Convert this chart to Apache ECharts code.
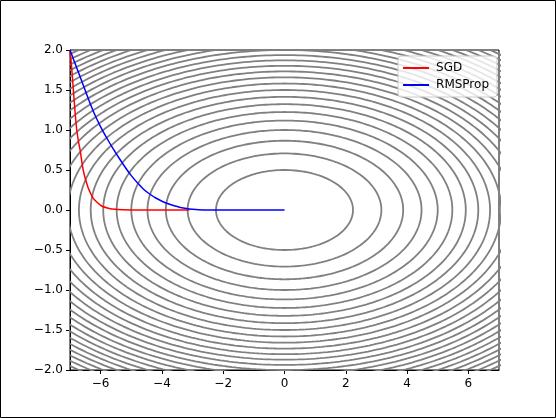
<!DOCTYPE html>
<html>
<head>
<meta charset="utf-8">
<script src="https://cdn.jsdelivr.net/npm/echarts@6/dist/echarts.min.js"></script>
<style>
html,body{margin:0;padding:0;background:#fff;}
#chart{width:556px;height:418px;}
</style>
</head>
<body>
<div id="chart"></div>
<script>
// Contour levels of f(x, y) = 0.1 x^2 + 2 y^2
const contourLevels = [0.5,1,1.5,2,2.5,3,3.5,4,4.5,5,5.5,6,6.5,7,7.5,8,8.5,9,9.5,10,10.5,11,11.5,12,12.5];
const xTicks = [-6,-4,-2,0,2,4,6];
const yTicks = [-2,-1.5,-1,-0.5,0,0.5,1,1.5,2];

// Optimiser traces (x, y)
const sgdX = [-7,-6.94,-6.89,-6.84,-6.78,-6.72,-6.67,-6.57,-6.42,-6.33,-6.24,-6.10,-5.97,-5.75,-5.53,-5.25,-4.99,-4.5,-4.0,-3.5,-3.1];
const sgdY = [2,1.75,1.5,1.25,1.0,0.85,0.75,0.5,0.29,0.21,0.146,0.09,0.05,0.022,0.008,0.003,0.001,0,0,0,0];
const rmsX = [-7,-6.63,-6.38,-6.2,-6.0,-5.8,-5.6,-5.4,-5.2,-5.0,-4.8,-4.6,-4.4,-4.2,-4.0,-3.8,-3.6,-3.4,-3.2,-3.0,-2.8,-2.5,-2.0,-1.0,0];
const rmsY = [2,1.625,1.37,1.2,1.04,0.9,0.77,0.65,0.535,0.43,0.34,0.26,0.2,0.15,0.11,0.078,0.052,0.032,0.018,0.009,0.004,0.001,0,0,0];

const zip = (a, b) => a.map((v, i) => [v, b[i]]);
const fmt = v => {
  const s = (Math.abs(v) < 1e-9 ? 0 : v);
  return (s < 0 ? '\u2212' : '') + Math.abs(s);
};
const fmtY = v => {
  const s = (Math.abs(v) < 1e-9 ? 0 : v);
  return (s < 0 ? '\u2212' : '') + Math.abs(s).toFixed(1);
};

const contourSeries = contourLevels.map(f => {
  const a = Math.sqrt(f / 0.1), b = Math.sqrt(f / 2);
  const pts = [];
  const N = 360;
  for (let i = 0; i <= N; i++) {
    const t = Math.PI / 2 + 2 * Math.PI * i / N;
    pts.push([a * Math.cos(t), b * Math.sin(t)]);
  }
  return {
    type: 'line', data: pts, showSymbol: false, silent: true, clip: true,
    lineStyle: {color: '#808080', width: 1.8}, z: 1
  };
});

const chart = echarts.init(document.getElementById('chart'), null, {renderer: 'canvas'});
chart.setOption({
  animation: false,
  backgroundColor: '#fff',
  textStyle: {fontFamily: 'DejaVu Sans'},
  grid: {left: 70, right: 57, top: 50, bottom: 48, show: true, borderColor: '#000', borderWidth: 1, backgroundColor: 'transparent'},
  xAxis: {
    type: 'value', min: -7, max: 7, interval: 1,
    splitLine: {show: false},
    axisLine: {show: true, onZero: false, lineStyle: {color: '#000', width: 1}},
    axisTick: {show: true, inside: false, length: 4, customValues: xTicks, lineStyle: {color: '#000'}},
    axisLabel: {customValues: xTicks, formatter: fmt, color: '#000', fontSize: 12, margin: 8, fontFamily: 'DejaVu Sans'}
  },
  yAxis: {
    type: 'value', min: -2, max: 2, interval: 0.5,
    splitLine: {show: false},
    axisLine: {show: true, onZero: false, lineStyle: {color: '#000', width: 1}},
    axisTick: {show: true, inside: false, length: 4, customValues: yTicks, lineStyle: {color: '#000'}},
    axisLabel: {customValues: yTicks, formatter: fmtY, color: '#000', fontSize: 12, margin: 7, fontFamily: 'DejaVu Sans'}
  },
  legend: {
    data: ['SGD', 'RMSProp'],
    orient: 'vertical', right: 59, top: 56,
    padding: [6, 8, 6, 5],
    itemGap: 5, itemWidth: 26, itemHeight: 2,
    icon: 'rect',
    backgroundColor: 'rgba(255,255,255,0.8)',
    borderColor: '#cccccc', borderWidth: 1, borderRadius: 3,
    textStyle: {fontSize: 12, color: '#000', fontFamily: 'DejaVu Sans', padding: [0, 0, 0, 2]}
  },
  graphic: [{
    type: 'rect', silent: true, z: 100,
    shape: {x: 0.5, y: 0.5, width: 555, height: 417},
    style: {fill: 'none', stroke: '#000', lineWidth: 1}
  }],
  series: contourSeries.concat([
    {name: 'SGD', type: 'line', data: zip(sgdX, sgdY), showSymbol: false, smooth: 0.25,
     lineStyle: {color: '#ff0000', width: 1.5}, itemStyle: {color: '#ff0000'}, z: 3},
    {name: 'RMSProp', type: 'line', data: zip(rmsX, rmsY), showSymbol: false, smooth: 0.25,
     lineStyle: {color: '#0000ff', width: 1.5}, itemStyle: {color: '#0000ff'}, z: 4}
  ])
});
</script>
</body>
</html>
